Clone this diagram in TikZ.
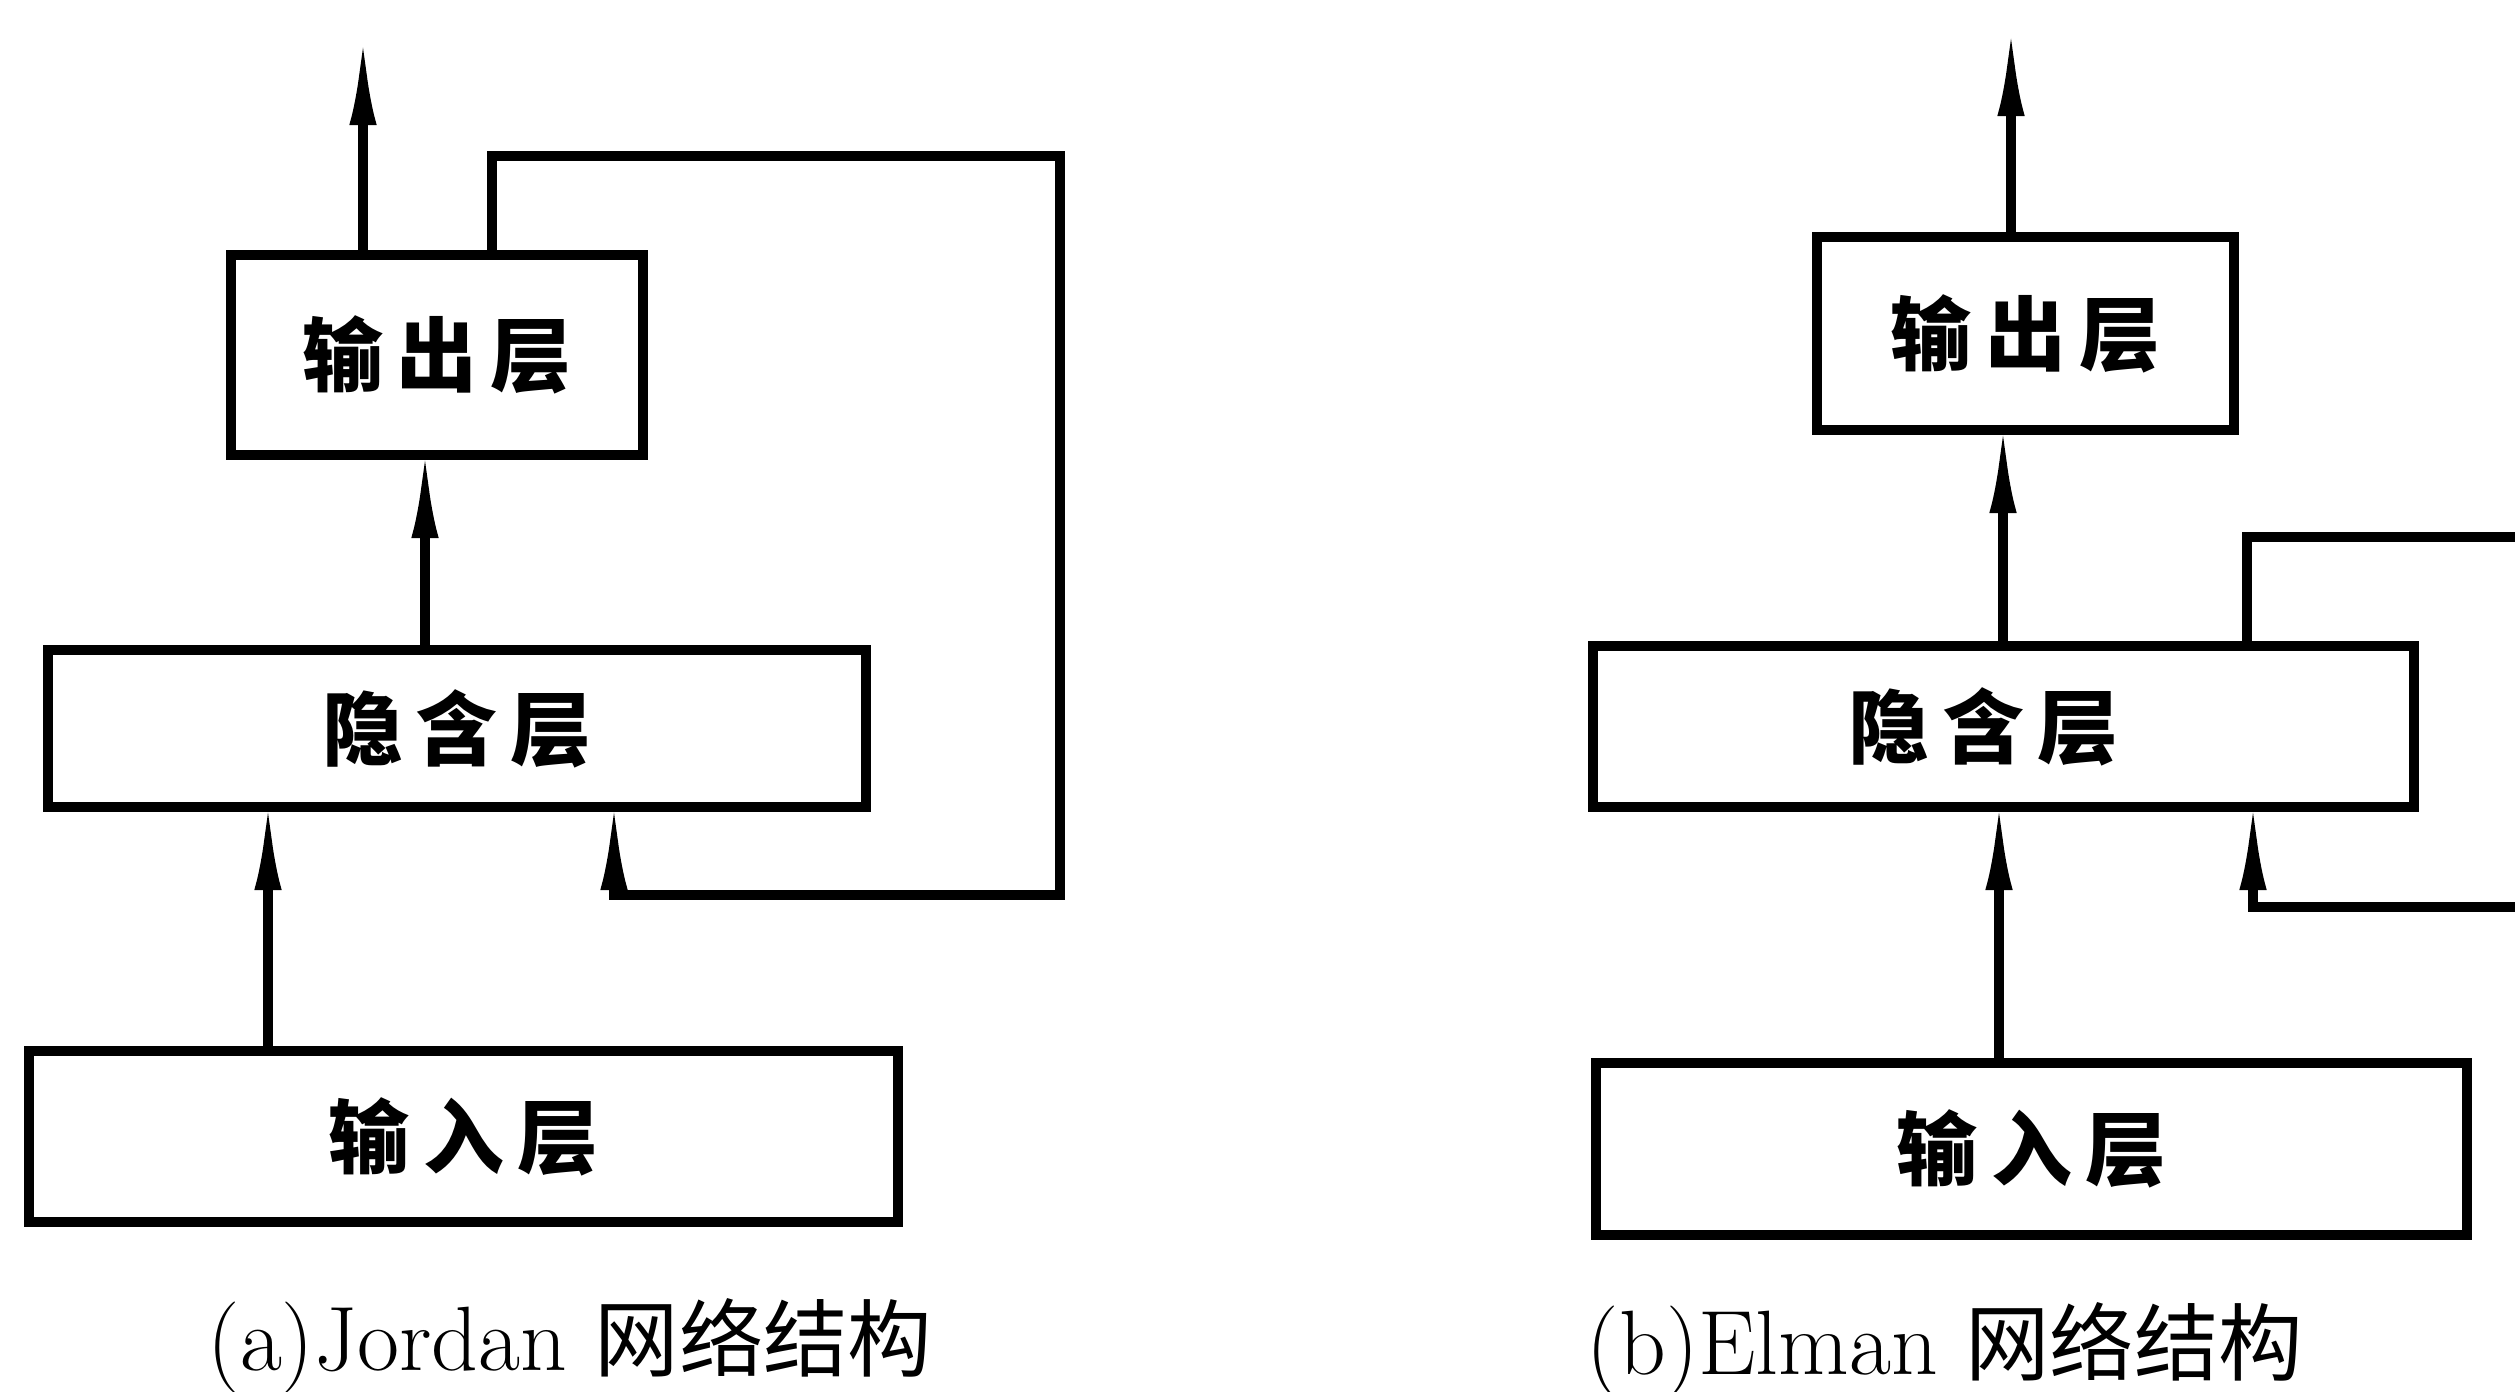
\documentclass[tikz,border=0pt]{standalone}
\usepackage{fontspec}
\newfontfamily\cjk{Noto Sans CJK SC}
\usetikzlibrary{arrows.meta}
\begin{document}
\begin{tikzpicture}[x=0.01cm,y=-0.01cm,
  layer/.style={draw,line width=2.8pt,inner sep=0pt,font=\cjk\bfseries\fontsize{23}{23}\selectfont},
  arr/.style={line width=2.6pt,line join=miter,shorten >=-0.12cm,-{Latex[length=0.9cm,width=0.27cm]}},
  fb/.style={line width=2.6pt,line join=miter},
  captext/.style={font=\fontsize{26}{26}\selectfont}]
\useasboundingbox (0,0) rectangle (2515,1392);
% ---------- (a) Jordan ----------
\node[layer,minimum width=4.12cm,minimum height=2.0cm] (aout) at (437,355) {输\,出\,层};
\node[layer,minimum width=8.18cm,minimum height=1.57cm] (ahid) at (457,728.5) {隐\,含\,层};
\node[layer,minimum width=8.69cm,minimum height=1.71cm] (ain) at (463.5,1136.5) {输\,入\,层};
\coordinate (aoT) at (363,47);
\coordinate (aHO) at (425,0);
\coordinate (aIH) at (268,0);
\coordinate (afA) at (492,156);
\coordinate (afB) at (1060,156);
\coordinate (afC) at (1060,895);
\coordinate (afD) at (614,895);
\draw[arr] (aout.north -| aoT) -- (aoT);
\draw[arr] (ahid.north -| aHO) -- (aout.south -| aHO);
\draw[arr] (ain.north -| aIH) -- (ahid.south -| aIH);
\draw[arr] (aout.north -| afA) -- (afA) -- (afB) -- (afC) -- (afD) -- (ahid.south -| afD);
\node[captext] (acap) at (570,1346) {(a)Jordan {\cjk\fontsize{24}{24}\selectfont 网络结构}};
% ---------- (b) Elman ----------
\node[layer,minimum width=4.17cm,minimum height=1.93cm] (bout) at (2025.5,333.5) {输\,出\,层};
\node[layer,minimum width=8.21cm,minimum height=1.61cm] (bhid) at (2003.5,726.5) {\hspace{-0.4cm}隐\,含\,层};
\node[layer,minimum width=8.71cm,minimum height=1.72cm] (bin) at (2031.5,1149) {输\,入\,层};
\coordinate (boT) at (2011,38);
\coordinate (bHO) at (2003,0);
\coordinate (bIH) at (1999,0);
\coordinate (bfA) at (2247,537);
\coordinate (bfB) at (2515,537);
\coordinate (bfC) at (2515,907);
\coordinate (bfD) at (2253,907);
\draw[arr] (bout.north -| boT) -- (boT);
\draw[arr] (bhid.north -| bHO) -- (bout.south -| bHO);
\draw[arr] (bin.north -| bIH) -- (bhid.south -| bIH);
\draw[fb] (bhid.north -| bfA) -- (bfA) -- (bfB);
\draw[arr] (bfC) -- (bfD) -- (bhid.south -| bfD);
\node[captext] (bcap) at (1945,1350) {(b)Elman {\cjk\fontsize{24}{24}\selectfont 网络结构}};
\end{tikzpicture}
\end{document}
